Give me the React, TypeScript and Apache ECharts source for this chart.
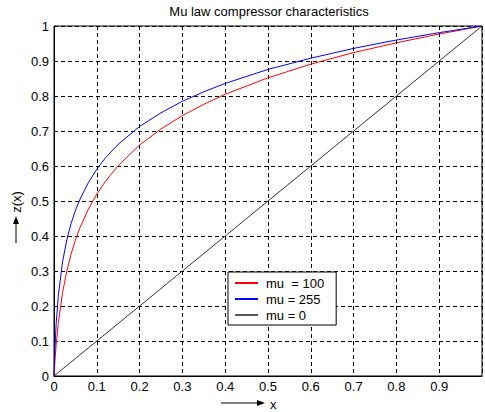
import React, { useEffect, useRef } from "react";
import * as echarts from "echarts";

const xValues = [0, 0.002, 0.005, 0.01, 0.02, 0.03, 0.04, 0.05, 0.06, 0.08, 0.1, 0.12, 0.15, 0.2, 0.25, 0.3, 0.35, 0.4, 0.5, 0.6, 0.7, 0.8, 0.9, 1.0];
const mu100 = [0, 0.040, 0.088, 0.150, 0.238, 0.300, 0.349, 0.388, 0.422, 0.476, 0.520, 0.556, 0.601, 0.660, 0.706, 0.744, 0.776, 0.805, 0.852, 0.891, 0.924, 0.952, 0.977, 1.0];
const mu255 = [0, 0.074, 0.148, 0.228, 0.326, 0.389, 0.436, 0.473, 0.503, 0.552, 0.591, 0.623, 0.662, 0.713, 0.752, 0.785, 0.812, 0.836, 0.876, 0.908, 0.936, 0.960, 0.981, 1.0];
const mu0 = [0, 0.002, 0.005, 0.01, 0.02, 0.03, 0.04, 0.05, 0.06, 0.08, 0.1, 0.12, 0.15, 0.2, 0.25, 0.3, 0.35, 0.4, 0.5, 0.6, 0.7, 0.8, 0.9, 1.0];
const seriesNames = ["mu  = 100", "mu = 255", "mu = 0"];
const titleText = "Mu law compressor characteristics";

const FONT = "Liberation Sans, Arial, sans-serif";

export default function App() {
  const ref = useRef<HTMLDivElement>(null);
  useEffect(() => {
    if (!ref.current) return;
    const chart = echarts.init(ref.current, undefined, { renderer: "svg" });
    const pairs = (ys: number[]) => xValues.map((x, i) => [x, ys[i]]);
    const fmt = (v: number) => (v === 0 ? "0" : String(Math.round(v * 10) / 10));
    chart.setOption({
      animation: false,
      backgroundColor: "#ffffff",
      textStyle: { fontFamily: FONT },
      grid: {
        left: 54,
        right: 1,
        top: 26,
        bottom: 36,
        show: true,
        borderColor: "#000",
        borderWidth: 1,
        backgroundColor: "transparent",
      },
      xAxis: {
        type: "value",
        min: 0,
        max: 1,
        interval: 0.1,
        axisLine: { show: true, onZero: false, lineStyle: { color: "#000", width: 1 } },
        axisTick: { show: false },
        axisLabel: {
          color: "#000",
          fontSize: 13,
          fontFamily: FONT,
          margin: 4,
          formatter: (v: number) => (v >= 1 ? "" : fmt(v)),
        },
        splitLine: { show: true, lineStyle: { color: "#000", type: [4, 3], width: 1 } },
      },
      yAxis: {
        type: "value",
        min: 0,
        max: 1,
        interval: 0.1,
        axisLine: { show: true, onZero: false, lineStyle: { color: "#000", width: 1 } },
        axisTick: { show: false },
        axisLabel: {
          color: "#000",
          fontSize: 13,
          fontFamily: FONT,
          margin: 5,
          formatter: (v: number) => fmt(v),
        },
        splitLine: { show: true, lineStyle: { color: "#000", type: [4, 3], width: 1 } },
      },
      legend: {
        left: 228,
        top: 272,
        orient: "vertical",
        backgroundColor: "#fff",
        borderColor: "#000",
        borderWidth: 1,
        borderRadius: 0,
        padding: [4, 12, 3, 7],
        itemGap: 2,
        itemWidth: 23,
        itemHeight: 2,
        icon: "rect",
        textStyle: { color: "#000", fontSize: 13, fontFamily: FONT, lineHeight: 14, padding: [0, 0, 0, 3] },
        data: seriesNames,
      },
      graphic: [
        {
          type: "text",
          x: 269,
          y: 11,
          style: { text: titleText, fill: "#000", font: `13px ${FONT}`, textAlign: "center", textVerticalAlign: "middle" },
        },
        { type: "line", shape: { x1: 221, y1: 403, x2: 258, y2: 403 }, style: { stroke: "#000", lineWidth: 1 } },
        { type: "polygon", shape: { points: [[257, 400], [265, 403], [257, 406]] }, style: { fill: "#000" } },
        {
          type: "text",
          x: 270,
          y: 404,
          style: { text: "x", fill: "#000", font: `13px ${FONT}`, textAlign: "left", textVerticalAlign: "middle" },
        },
        { type: "line", shape: { x1: 16, y1: 243, x2: 16, y2: 222 }, style: { stroke: "#000", lineWidth: 1 } },
        { type: "polygon", shape: { points: [[13, 224], [16, 216], [19, 224]] }, style: { fill: "#000" } },
        {
          type: "text",
          x: 16,
          y: 202,
          rotation: Math.PI / 2,
          style: { text: "z(x)", fill: "#000", font: `13px ${FONT}`, textAlign: "center", textVerticalAlign: "middle" },
        },
      ],
      series: [
        {
          name: seriesNames[0],
          type: "line",
          data: pairs(mu100),
          showSymbol: false,
          color: "#ff0000",
          lineStyle: { color: "#ff0000", width: 1 },
        },
        {
          name: seriesNames[1],
          type: "line",
          data: pairs(mu255),
          showSymbol: false,
          color: "#0000ff",
          lineStyle: { color: "#0000ff", width: 1 },
        },
        {
          name: seriesNames[2],
          type: "line",
          data: pairs(mu0),
          showSymbol: false,
          color: "#555555",
          lineStyle: { color: "#333333", width: 1 },
        },
      ],
    });
    return () => chart.dispose();
  }, []);
  return <div ref={ref} style={{ position: "fixed", left: 0, top: 0, width: 485, height: 412 }} />;
}
